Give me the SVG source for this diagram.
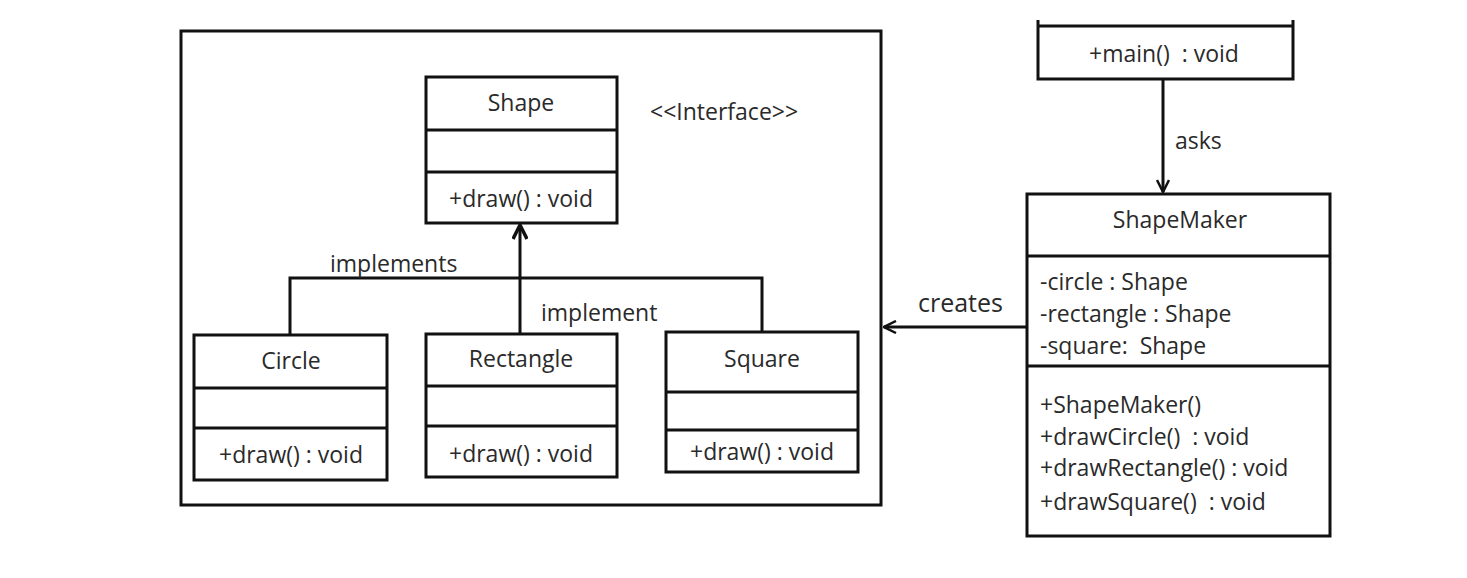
<svg xmlns="http://www.w3.org/2000/svg" width="1467" height="578" viewBox="0 0 1467 578">
<defs>
<style>
.box{fill:#fff;stroke:#111;stroke-width:3}
.ln{stroke:#111;stroke-width:3;fill:none}
.t{font-family:"Open Sans","Noto Sans",sans-serif;font-size:23px;fill:#2a2a2a;white-space:pre}
.c{text-anchor:middle}
</style>
<marker id="open" viewBox="0 0 14 14" refX="13" refY="7" markerWidth="14" markerHeight="14" markerUnits="userSpaceOnUse" orient="auto">
<path d="M1,1 L13,7 L1,13" fill="none" stroke="#111" stroke-width="2.5"/>
</marker>
<marker id="head" viewBox="0 0 16 16" refX="15" refY="8" markerWidth="16" markerHeight="16" markerUnits="userSpaceOnUse" orient="auto">
<path d="M1,1 L15,8 L1,15" fill="none" stroke="#111" stroke-width="3.5"/>
</marker>
</defs>
<rect width="1467" height="578" fill="#fff"/>
<g id="frame"><rect class="box" x="181" y="31" width="700" height="474" fill="none"/></g>
<g id="connectors">
<path class="ln" d="M290,335 V278 H762 V333"/>
<line class="ln" x1="520" y1="334" x2="520" y2="225" marker-end="url(#head)"/>
<line class="ln" x1="1163" y1="79" x2="1163" y2="192" marker-end="url(#open)"/>
<line class="ln" x1="1027" y1="327" x2="884" y2="327" marker-end="url(#open)"/>
<text class="t" x="330" y="272">implements</text>
<text class="t" x="541" y="321">implement</text>
<text class="t" x="1175" y="149">asks</text>
<text class="t" x="918" y="312" style="font-size:25px">creates</text>
</g>
<g id="shape">
<rect class="box" x="426" y="77" width="191" height="146"/>
<line class="ln" x1="426" y1="130" x2="617" y2="130"/>
<line class="ln" x1="426" y1="172" x2="617" y2="172"/>
<text class="t c" x="521" y="111">Shape</text>
<text class="t c" x="521" y="207">+draw() : void</text>
</g>
<g id="interface-label"><text class="t" x="650" y="120">&lt;&lt;Interface&gt;&gt;</text></g>
<g id="circle">
<rect class="box" x="194" y="335" width="193" height="145"/>
<line class="ln" x1="194" y1="388" x2="387" y2="388"/>
<line class="ln" x1="194" y1="428" x2="387" y2="428"/>
<text class="t c" x="291" y="369">Circle</text>
<text class="t c" x="291" y="463">+draw() : void</text>
</g>
<g id="rectangle">
<rect class="box" x="426" y="334" width="191" height="143"/>
<line class="ln" x1="426" y1="386" x2="617" y2="386"/>
<line class="ln" x1="426" y1="426" x2="617" y2="426"/>
<text class="t c" x="521" y="367">Rectangle</text>
<text class="t c" x="521" y="462">+draw() : void</text>
</g>
<g id="square">
<rect class="box" x="666" y="332" width="192" height="140"/>
<line class="ln" x1="666" y1="392" x2="858" y2="392"/>
<line class="ln" x1="666" y1="430" x2="858" y2="430"/>
<text class="t c" x="762" y="367">Square</text>
<text class="t c" x="762" y="460">+draw() : void</text>
</g>
<g id="main">
<path class="ln" d="M1038,20 V79 H1293 V20"/>
<line class="ln" x1="1038" y1="26" x2="1293" y2="26"/>
<text class="t c" x="1164" y="62">+main()  : void</text>
</g>
<g id="shapemaker">
<rect class="box" x="1027" y="194" width="303" height="342"/>
<line class="ln" x1="1027" y1="256" x2="1330" y2="256"/>
<line class="ln" x1="1027" y1="366" x2="1330" y2="366"/>
<text class="t c" x="1180" y="228">ShapeMaker</text>
<text class="t" x="1040" y="290">-circle : Shape</text>
<text class="t" x="1040" y="322">-rectangle : Shape</text>
<text class="t" x="1040" y="354">-square:  Shape</text>
<text class="t" x="1040" y="413">+ShapeMaker()</text>
<text class="t" x="1040" y="445">+drawCircle()  : void</text>
<text class="t" x="1040" y="476">+drawRectangle() : void</text>
<text class="t" x="1040" y="510">+drawSquare()  : void</text>
</g>
</svg>
